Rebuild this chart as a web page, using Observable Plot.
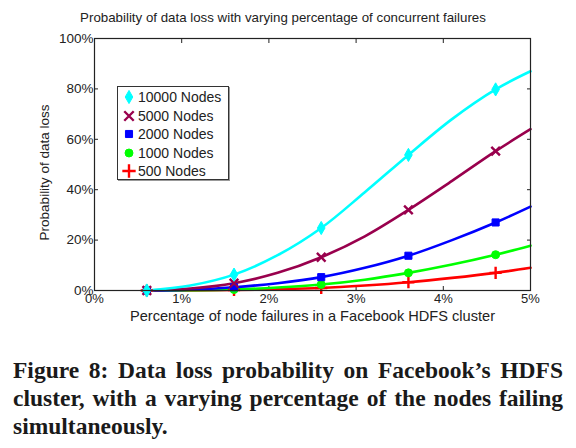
<!DOCTYPE html>
<html><head><meta charset="utf-8">
<script src="https://cdn.jsdelivr.net/npm/d3@7"></script>
<script src="https://cdn.jsdelivr.net/npm/@observablehq/plot@0.6"></script>
<style>
body{margin:0;background:#fff;}
#wrap{position:relative;width:576px;height:448px;overflow:hidden;font-family:"Liberation Sans",Arial,sans-serif;color:#222;}
#title{position:absolute;left:0;width:566px;top:10px;text-align:center;font-size:13.3px;line-height:16px;}
#legend{position:absolute;left:117px;top:86px;width:112px;height:94px;border:1px solid #333;background:#fff;box-sizing:border-box;box-shadow:1px 1px 0 #999;}
.li{position:absolute;left:4px;height:18px;display:flex;align-items:center;font-size:14px;}
.li svg{margin-right:2px;}
#caption{position:absolute;left:13px;top:356px;width:550px;font-family:"Liberation Serif","Times New Roman",serif;font-weight:bold;font-size:23.5px;line-height:28px;color:#1a1a1a;}
#caption div{text-align:justify;text-align-last:justify;white-space:nowrap;}
#caption div.last{text-align-last:left;}
</style></head>
<body><div id="wrap">
<div id="chart" style="position:absolute;left:0;top:0;"></div>
<div id="title"></div>
<div id="legend"></div>
<div id="caption"></div>
</div>
<script>
const titleText = "Probability of data loss with varying percentage of concurrent failures";
const xLabel = "Percentage of node failures in a Facebook HDFS cluster";
const yLabel = "Probability of data loss";
const captionLines = ["Figure 8: Data loss probability on Facebook\u2019s HDFS","cluster, with a varying percentage of the nodes failing","simultaneously."];

const seriesNames = ["10000 Nodes","5000 Nodes","2000 Nodes","1000 Nodes","500 Nodes"];
const seriesColors = ["#00ffff","#99004d","#0000ff","#00ff00","#ff0000"];
const seriesSymbols = ["diamond","times","square","circle","plus"];

const xs = [0.6,1.1,1.6,2.1,2.6,3.1,3.6,4.1,4.6,5.0];
const markerXs = [0.6,1.6,2.6,3.6,4.6];
const nodes10000 = [0,2.0,6.3,14,24.8,39,53.8,68,79.8,87];
const nodes5000  = [0,0.8,2.9,7.0,13.2,21.5,32,43.5,55.3,64];
const nodes2000  = [0,0.3,1.3,2.9,5.3,9.0,13.8,20,27,33.3];
const nodes1000  = [0,0.1,0.4,1.2,2.4,4.3,7.0,10.3,14.2,17.8];
const nodes500   = [0,0.05,0.2,0.5,1.0,2.0,3.3,5.0,7.0,9.0];
const allSeries = [nodes10000,nodes5000,nodes2000,nodes1000,nodes500];

const xTicks = [0,1,2,3,4,5];
const yTicks = [0,20,40,60,80,100];

const data = [];
allSeries.forEach((vals,i)=>vals.forEach((v,j)=>data.push({series:seriesNames[i],x:xs[j],y:v})));
const markers = data.filter(d=>markerXs.includes(d.x));

const sym = {domain:seriesNames, range:seriesSymbols};

const marks = [];
[...seriesNames].reverse().forEach(name=>{
  marks.push(Plot.line(data.filter(d=>d.series===name),{x:"x",y:"y",stroke:seriesColors[seriesNames.indexOf(name)],strokeWidth:2.6,curve:"catmull-rom"}));
});
[...seriesNames].reverse().forEach(name=>{
  const i = seriesNames.indexOf(name);
  const filled = seriesSymbols[i]!=="times" && seriesSymbols[i]!=="plus";
  marks.push(Plot.dot(markers.filter(d=>d.series===name),{x:"x",y:"y",symbol:()=>seriesSymbols[i],r:4,
    fill: filled?seriesColors[i]:"none", stroke: seriesColors[i], strokeWidth: filled?1:2.4}));
});

const chart = Plot.plot({
  width:576,height:325,
  marginLeft:94,marginRight:46,marginTop:38,marginBottom:35,
  style:{fontFamily:"Liberation Sans, Arial, sans-serif",fontSize:"13px",color:"#222",background:"transparent",overflow:"visible"},
  x:{domain:[0,5]},
  y:{domain:[0,100]},
  symbol:sym,
  marks:[
    Plot.axisX(xTicks,{anchor:"bottom",tickSize:-4,tickPadding:7,tickFormat:d=>d+"%",label:xLabel,labelAnchor:"center",labelArrow:false,labelOffset:30,fontSize:13}),
    Plot.axisX(xTicks,{anchor:"top",tickSize:-4,tickFormat:()=>"",label:null}),
    Plot.axisY(yTicks,{anchor:"left",tickSize:-4,tickPadding:5,tickFormat:d=>d+"%",label:null,fontSize:13.5}),
    Plot.axisY(yTicks,{anchor:"right",tickSize:-4,tickFormat:()=>"",label:null}),
    Plot.text([yLabel],{text:d=>d,frameAnchor:"left",textAnchor:"middle",rotate:-90,dx:-50,dy:8,fontSize:13.5,fill:"#222"}),
    ...marks,
    Plot.frame({stroke:"#222",strokeWidth:1.2})
  ]
});
// enlarge the x-axis label text only
chart.querySelectorAll("text").forEach(t=>{ if(t.textContent===xLabel) t.setAttribute("font-size","14.6"); });
document.getElementById("chart").appendChild(chart);
document.getElementById("title").textContent = titleText;

const leg = document.getElementById("legend");
seriesNames.forEach((name,i)=>{
  const row = document.createElement("div");
  row.className="li";
  row.style.top = (1 + i*18.6)+"px";
  const s = d3.create("svg").attr("width",14).attr("height",14);
  const typeMap = {diamond:d3.symbolDiamond,times:d3.symbolTimes,square:d3.symbolSquare,circle:d3.symbolCircle,plus:d3.symbolPlus};
  const filled = seriesSymbols[i]!=="times" && seriesSymbols[i]!=="plus";
  s.append("path").attr("transform","translate(7,7)")
    .attr("d",d3.symbol(typeMap[seriesSymbols[i]], filled?50:60)())
    .attr("fill",filled?seriesColors[i]:"none").attr("stroke",seriesColors[i]).attr("stroke-width",filled?1:2.4);
  row.appendChild(s.node());
  const t = document.createElement("span"); t.textContent = name; row.appendChild(t);
  leg.appendChild(row);
});

const cap = document.getElementById("caption");
captionLines.forEach((l,i)=>{const d=document.createElement("div");d.textContent=l;if(i===captionLines.length-1)d.className="last";cap.appendChild(d);});
</script>
</body></html>
